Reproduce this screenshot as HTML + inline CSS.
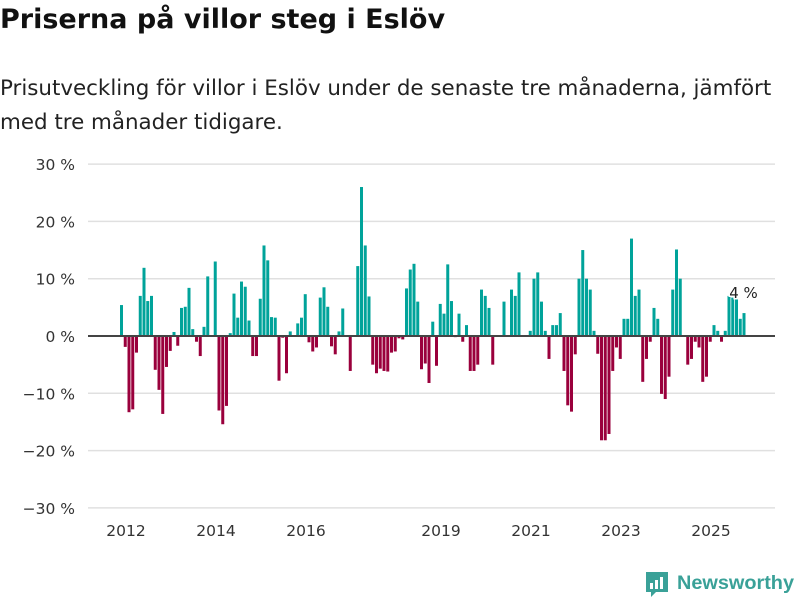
<!DOCTYPE html>
<html><head><meta charset="utf-8">
<style>
body{margin:0;background:#fff;font-family:"DejaVu Sans","Liberation Sans",sans-serif;}
#wrap{position:relative;width:800px;height:600px;overflow:hidden;}
h1{position:absolute;left:0;top:4px;margin:0;font-size:27px;font-weight:bold;color:#111;}
.sub{position:absolute;left:0;top:72px;margin:0;font-size:21.4px;line-height:34px;color:#222;white-space:nowrap;}
</style></head>
<body><div id="wrap">
<h1>Priserna på villor steg i Eslöv</h1>
<p class="sub">Prisutveckling för villor i Eslöv under de senaste tre månaderna, jämfört<br>med tre månader tidigare.</p>
<svg id="chart" width="800" height="600" style="position:absolute;left:0;top:0"></svg>
</div>
<script>
const values=[5.4,-1.9,-13.3,-12.8,-2.9,7.0,11.9,6.1,7.0,-5.9,-9.4,-13.6,-5.4,-2.6,0.7,-1.7,4.9,5.1,8.4,1.2,-1.0,-3.5,1.6,10.4,null,13.0,-13.0,-15.4,-12.2,0.5,7.4,3.2,9.5,8.6,2.7,-3.5,-3.5,6.5,15.8,13.2,3.3,3.2,
-7.8,-0.3,-6.5,0.8,null,2.2,3.2,7.3,-1.1,-2.7,-2.0,6.7,8.5,5.1,-1.8,-3.2,0.8,4.8,null,-6.1,null,12.2,26.0,15.8,6.9,-5.0,-6.5,-5.7,-6.1,-6.2,-2.9,-2.7,-0.4,-0.6,8.3,11.6,12.6,6.0,-5.8,-4.8,-8.2,
2.5,-5.2,5.6,3.9,12.5,6.1,-0.2,3.9,-1.0,1.9,-6.1,-6.1,-5.0,8.1,7.0,4.9,-5.0,null,null,6.0,null,8.1,7.0,11.1,null,null,0.9,10.0,11.1,6.0,0.9,-4.0,1.9,1.9,4.0,-6.1,-12.1,-13.2,-3.2,10.0,15.0,
10.0,8.1,0.9,-3.1,-18.2,-18.2,-17.1,-6.1,-2.0,-4.0,3.0,3.0,17.0,7.0,8.1,-8.0,-4.0,-1.0,4.9,3.0,-10.1,-11.0,-7.1,8.1,15.1,10.0,null,-5.0,-4.0,-1.0,-2.0,-8.0,-7.1,-1.0,1.9,0.9,-1.0,0.9,7.0,6.7,6.5,3.0,4.0];
const yTicks=[30,20,10,0,-10,-20,-30];
const yTickLabels=["30 %","20 %","10 %","0 %","−10 %","−20 %","−30 %"];
const xYears=[2012,2014,2016,2019,2021,2023,2025];
const lastLabel="4 %";
const NS="http://www.w3.org/2000/svg";
const svg=document.getElementById('chart');
const y=v=>336-v*5.73;
const x=i=>120+i*3.75;
function mk(t,a){const e=document.createElementNS(NS,t);for(const k in a)e.setAttribute(k,a[k]);svg.appendChild(e);return e;}
yTicks.forEach((t,k)=>{
  if(t!==0){const g=mk('line',{x1:88,x2:775,y1:y(t),y2:y(t),stroke:'#e0e0e0','stroke-width':1.5});
  
  }
  const l=mk('text',{x:75,y:y(t)+6,'text-anchor':'end','font-size':15.5,fill:'#333','font-family':'DejaVu Sans, sans-serif'});
  l.textContent=yTickLabels[k];
  
  
});
values.forEach((v,i)=>{
  if(v===null)return;
  const r=mk('rect',{x:x(i),width:3,y:v>=0?y(v):y(0),height:Math.abs(y(v)-y(0)),fill:v>=0?'#00a39a':'#9a003c'});
  
  
});
const z=mk('line',{x1:88,x2:775,y1:y(0),y2:y(0),stroke:'#444','stroke-width':2});


xYears.forEach(yr=>{
  const t=mk('text',{x:x((yr-2012)*12+1.6),y:536,'text-anchor':'middle','font-size':15.5,fill:'#333','font-family':'DejaVu Sans, sans-serif'});
  t.textContent=yr;
  
  
});
const ll=mk('text',{x:x(values.length-1)+1,y:298,'text-anchor':'middle','font-size':15,fill:'#222','font-family':'DejaVu Sans, sans-serif',stroke:'#fff','stroke-width':3,'paint-order':'stroke'});
ll.textContent=lastLabel;


const lg=mk('g',{});


const p=document.createElementNS(NS,'path');p.setAttribute('d','M646 572h22v20h-12l-5 5v-5h-5z');p.setAttribute('fill','#3aa198');lg.appendChild(p);
[[650,583,3,6],[655,580,3,9],[660,577,3,12]].forEach(b=>{const r=document.createElementNS(NS,'rect');r.setAttribute('x',b[0]);r.setAttribute('y',b[1]);r.setAttribute('width',b[2]);r.setAttribute('height',b[3]);r.setAttribute('fill','#fff');lg.appendChild(r);});
const lt=document.createElementNS(NS,'text');lt.setAttribute('x',677);lt.setAttribute('y',589);lt.setAttribute('font-size',19);lt.setAttribute('font-weight','bold');lt.setAttribute('fill','#3aa198');lt.setAttribute('font-family','Liberation Sans, sans-serif');lt.setAttribute('textLength',117);lt.setAttribute('lengthAdjust','spacingAndGlyphs');lt.textContent='Newsworthy';lg.appendChild(lt);
</script>
</body></html>
